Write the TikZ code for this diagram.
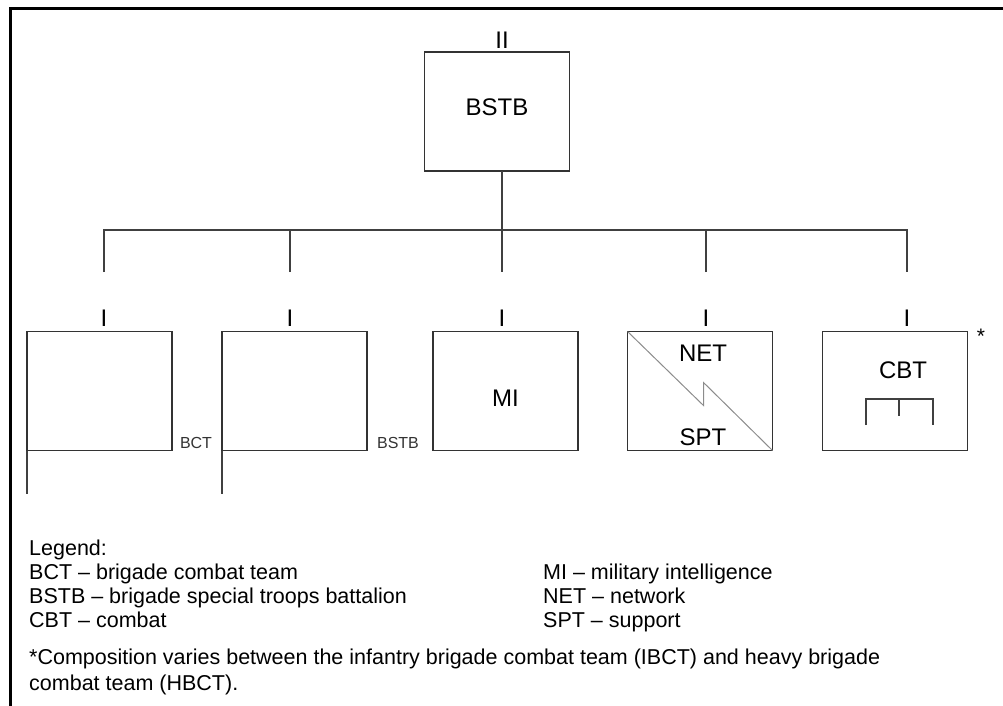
\documentclass[tikz,border=0pt]{standalone}
\usepackage{fontspec}
\setmainfont{Liberation Sans}
\begin{document}
\begin{tikzpicture}[x=1pt,y=-1pt,
  frame/.style={line width=3pt, draw=black},
  unit/.style={draw=black!80, line width=1.1pt, minimum width=145pt,
    minimum height=119pt, inner sep=0pt, outer sep=0pt},
  link/.style={draw=black!75, line width=1.4pt},
  thinlink/.style={draw=black!75, line width=1.1pt},
  echelon/.style={font=\fontsize{24}{24}\selectfont, inner sep=0pt},
  boxtext/.style={font=\fontsize{24}{24}\selectfont, inner sep=0pt},
  tag/.style={font=\fontsize{16}{16}\selectfont, text=black!80, inner sep=0pt},
  legend/.style={font=\fontsize{21.5}{21.5}\selectfont, anchor=base west, inner sep=0pt},
]
\useasboundingbox (0,0) rectangle (1003,706);

% outer frame (top and left edges)
\draw[frame] (10,720) -- (10,8.5) -- (1015,8.5);

% battalion headquarters
\node[unit] (bstb) at (497,111.5) {};
\node[boxtext] (bstbtxt) at (497,107) {BSTB};
\node[echelon] (e0) at (502,40) {II};

% subordinate companies
\node[unit] (bct)  at (99.5,391) {};
\node[unit] (hhc)  at (294.5,391) {};
\node[unit] (mi)   at (505.5,391) {};
\node[unit] (net)  at (700,391) {};
\node[unit] (cbt)  at (895,391) {};

% company echelon marks
\node[echelon] (e1) at (104,318) {I};
\node[echelon] (e2) at (290,318) {I};
\node[echelon] (e3) at (502,318) {I};
\node[echelon] (e4) at (706,318) {I};
\node[echelon] (e5) at (907,318) {I};

% bus line and drops
\coordinate (b1) at (104,230);
\coordinate (b2) at (290,230);
\coordinate (b3) at (502,230);
\coordinate (b4) at (706,230);
\coordinate (b5) at (907,230);
\coordinate (d1) at (104,272);
\coordinate (d2) at (290,272);
\coordinate (d3) at (502,272);
\coordinate (d4) at (706,272);
\coordinate (d5) at (907,272);
\draw[link] (d1) -- (b1) -- (b5) -- (d5);
\draw[link] (d2) -- (b2);
\draw[link] (d4) -- (b4);
\draw[link] (bstb.south -| d3) -- (d3);

% headquarters flag staffs
\draw[thinlink] (bct.south west) -- ++(0,43);
\draw[thinlink] (hhc.south west) -- ++(0,43);
\node[tag] (bcttag) at (196,443) {BCT};
\node[tag] (hhctag) at (398,443) {BSTB};

% MI company
\node[boxtext] (mitxt) at (505.5,398) {MI};

% network support company
\draw[draw=black!45, line width=1pt] (net.north west) -- ++(76,74) -- ++(0,-23) -- (net.south east);
\node[boxtext] (nettxt) at (703,353) {NET};
\node[boxtext] (spttxt) at (703,437) {SPT};

% combat company
\node[boxtext] (cbttxt) at (903,370) {CBT};
\draw[thinlink] (866,425) -- (866,399) -- (933,399) -- (933,425);
\draw[thinlink] (899,399) -- (899,416);
\node[font=\fontsize{21}{21}\selectfont, inner sep=0pt] (star) at (981,336) {*};

% legend
\node[legend] (lg)  at (29,555) {Legend:};
\node[legend] (l1)  at (29,579) {BCT – brigade combat team};
\node[legend] (l2)  at (29,603) {BSTB – brigade special troops battalion};
\node[legend] (l3)  at (29,627) {CBT – combat};
\node[legend] (r1)  at (543,579) {MI – military intelligence};
\node[legend] (r2)  at (543,603) {NET – network};
\node[legend] (r3)  at (543,627) {SPT – support};
\node[legend] (fn1) at (29,664) {*Composition varies between the infantry brigade combat team (IBCT) and heavy brigade};
\node[legend] (fn2) at (29,690) {combat team (HBCT).};
\end{tikzpicture}
\end{document}
